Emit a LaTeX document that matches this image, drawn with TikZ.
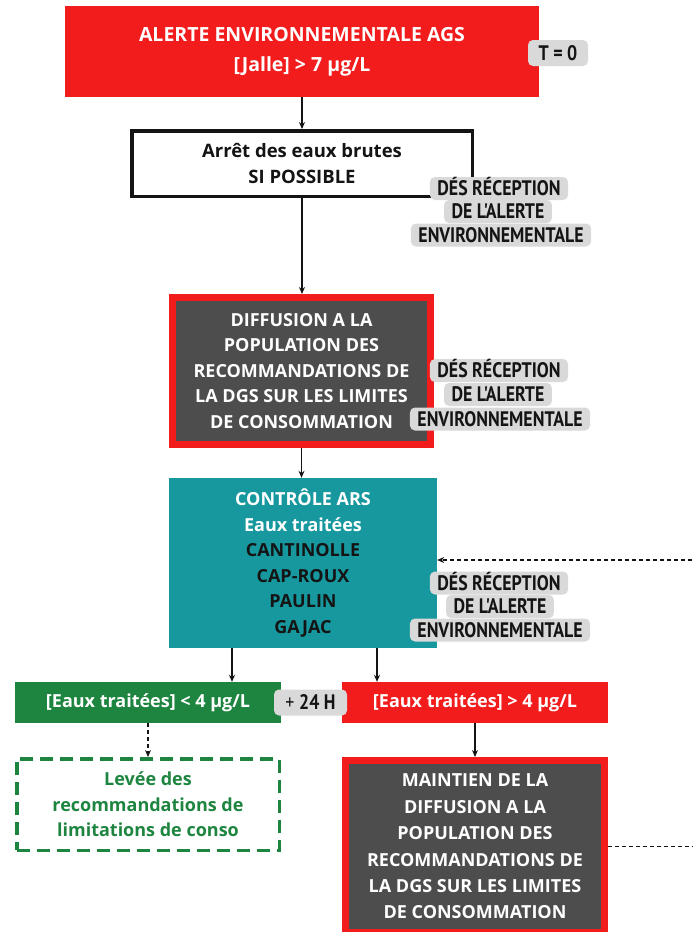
\documentclass[tikz,border=0pt]{standalone}
\usepackage{fontspec}
\setmainfont{Open Sans}
\newfontfamily\tagfont[FakeStretch=0.85]{PT Sans}
\usetikzlibrary{arrows.meta}

\definecolor{alertred}{RGB}{242,28,28}
\definecolor{slate}{RGB}{77,77,77}
\definecolor{tealfill}{RGB}{22,152,158}
\definecolor{okgreen}{RGB}{30,133,64}
\definecolor{taggray}{RGB}{217,217,217}
\definecolor{ink}{RGB}{20,20,20}

\tikzset{
  base/.style={rectangle, inner sep=0pt, align=center, text=ink,
    font=\bfseries\fontsize{18}{25.5}\selectfont},
  redbox/.style={base, fill=alertred, text=white},
  framedbox/.style={base, draw=alertred, line width=7pt, fill=slate, text=white},
  plainbox/.style={base, draw=ink, line width=3.5pt, fill=white},
  tealbox/.style={base, fill=tealfill},
  greenbox/.style={base, fill=okgreen, text=white},
  liftbox/.style={base, draw=okgreen, line width=3.5pt, dash pattern=on 13pt off 7pt,
    text=okgreen},
  tagline/.style={rectangle, rounded corners=5pt, fill=taggray, inner xsep=7.5pt,
    inner ysep=0pt, minimum height=23pt, text height=14.7pt, text depth=0pt,
    text=ink, font=\tagfont\bfseries\fontsize{21}{23}\selectfont},
  flow/.style={draw=ink, line width=1.1pt, -{Stealth[length=7pt,width=6pt]}},
  dashflow/.style={flow, dash pattern=on 4pt off 3pt},
  dashlink/.style={draw=ink, line width=1.1pt, dash pattern=on 4pt off 3pt},
}

\begin{document}
\begin{tikzpicture}[x=1pt,y=-1pt]
\useasboundingbox (0,0) rectangle (693,932);

% main column
\node[redbox, minimum width=474pt, minimum height=91pt,
  font=\bfseries\fontsize{19.5}{30}\selectfont] (alert) at (302,51.5)
  {ALERTE ENVIRONNEMENTALE AGS\\{}[Jalle] > 7 µg/L};
\node[plainbox, minimum width=340.5pt, minimum height=65.5pt,
  font=\bfseries\fontsize{18.5}{26}\selectfont] (stop) at (302,163.5)
  {Arrêt des eaux brutes\\SI POSSIBLE};
\node[framedbox, minimum width=258pt, minimum height=147pt] (diff) at (301.5,371)
  {DIFFUSION A LA\\POPULATION DES\\RECOMMANDATIONS DE\\LA DGS SUR LES LIMITES\\DE CONSOMMATION};
\node[tealbox, minimum width=268pt, minimum height=170pt] (teal) at (303,563)
  {\textcolor{white}{CONTRÔLE ARS}\\\textcolor{white}{Eaux traitées}\\CANTINOLLE\\CAP-ROUX\\PAULIN\\GAJAC};

% outcome boxes
\node[greenbox, minimum width=266pt, minimum height=41pt] (ok) at (148,702.5)
  {[Eaux traitées] < 4 µg/L};
\node[redbox, minimum width=266pt, minimum height=41pt] (ko) at (475,702.5)
  {[Eaux traitées] > 4 µg/L};
\node[liftbox, minimum width=262.5pt, minimum height=91.5pt] (lift) at (148,804.5)
  {Levée des\\recommandations de\\limitations de conso};
\node[framedbox, minimum width=259pt, minimum height=172pt,
  font=\bfseries\fontsize{18}{26.4}\selectfont] (maint) at (475,846.5)
  {MAINTIEN DE LA\\DIFFUSION A LA\\POPULATION DES\\RECOMMANDATIONS DE\\LA DGS SUR LES LIMITES\\DE CONSOMMATION};

% connectors
\coordinate (splitL) at (232,648);
\coordinate (splitR) at (377,648);
\coordinate (loopB) at (720,846.5);
\coordinate (loopT) at (720,560);

\draw[flow] (alert.south) -- (stop.north);
\draw[flow] (stop.south) -- (stop.south |- diff.north);
\draw[flow] (diff.south) -- (diff.south |- teal.north);
\draw[flow] (teal.south -| splitL) -- (ok.north -| splitL);
\draw[flow] (teal.south -| splitR) -- (ko.north -| splitR);
\draw[dashflow] (ok.south) -- (lift.north);
\draw[flow] (ko.south) -- (maint.north);
\draw[dashlink] (maint.east) -- (loopB) -- (loopT);
\draw[dashflow] (loopT) -- (teal.east |- loopT);

% timing tags
\node[tagline, minimum width=60pt, minimum height=26pt] (tzero) at (558,53) {T = 0};
\node[tagline, minimum width=73pt, minimum height=26pt] (plus) at (310.5,702.5)
  {\mdseries + \bfseries 24 H};

\node[tagline] (tagAa) at (499,188.5) {DÉS RÉCEPTION};
\node[tagline] (tagAb) at (498,211.5) {DE L'ALERTE};
\node[tagline] (tagAc) at (501,235) {ENVIRONNEMENTALE};

\node[tagline] (tagBa) at (499,370.5) {DÉS RÉCEPTION};
\node[tagline] (tagBb) at (498,394.5) {DE L'ALERTE};
\node[tagline] (tagBc) at (500,419) {ENVIRONNEMENTALE};

\node[tagline] (tagCa) at (499,583) {DÉS RÉCEPTION};
\node[tagline] (tagCb) at (500,606.5) {DE L'ALERTE};
\node[tagline] (tagCc) at (500,630) {ENVIRONNEMENTALE};
\end{tikzpicture}
\end{document}
